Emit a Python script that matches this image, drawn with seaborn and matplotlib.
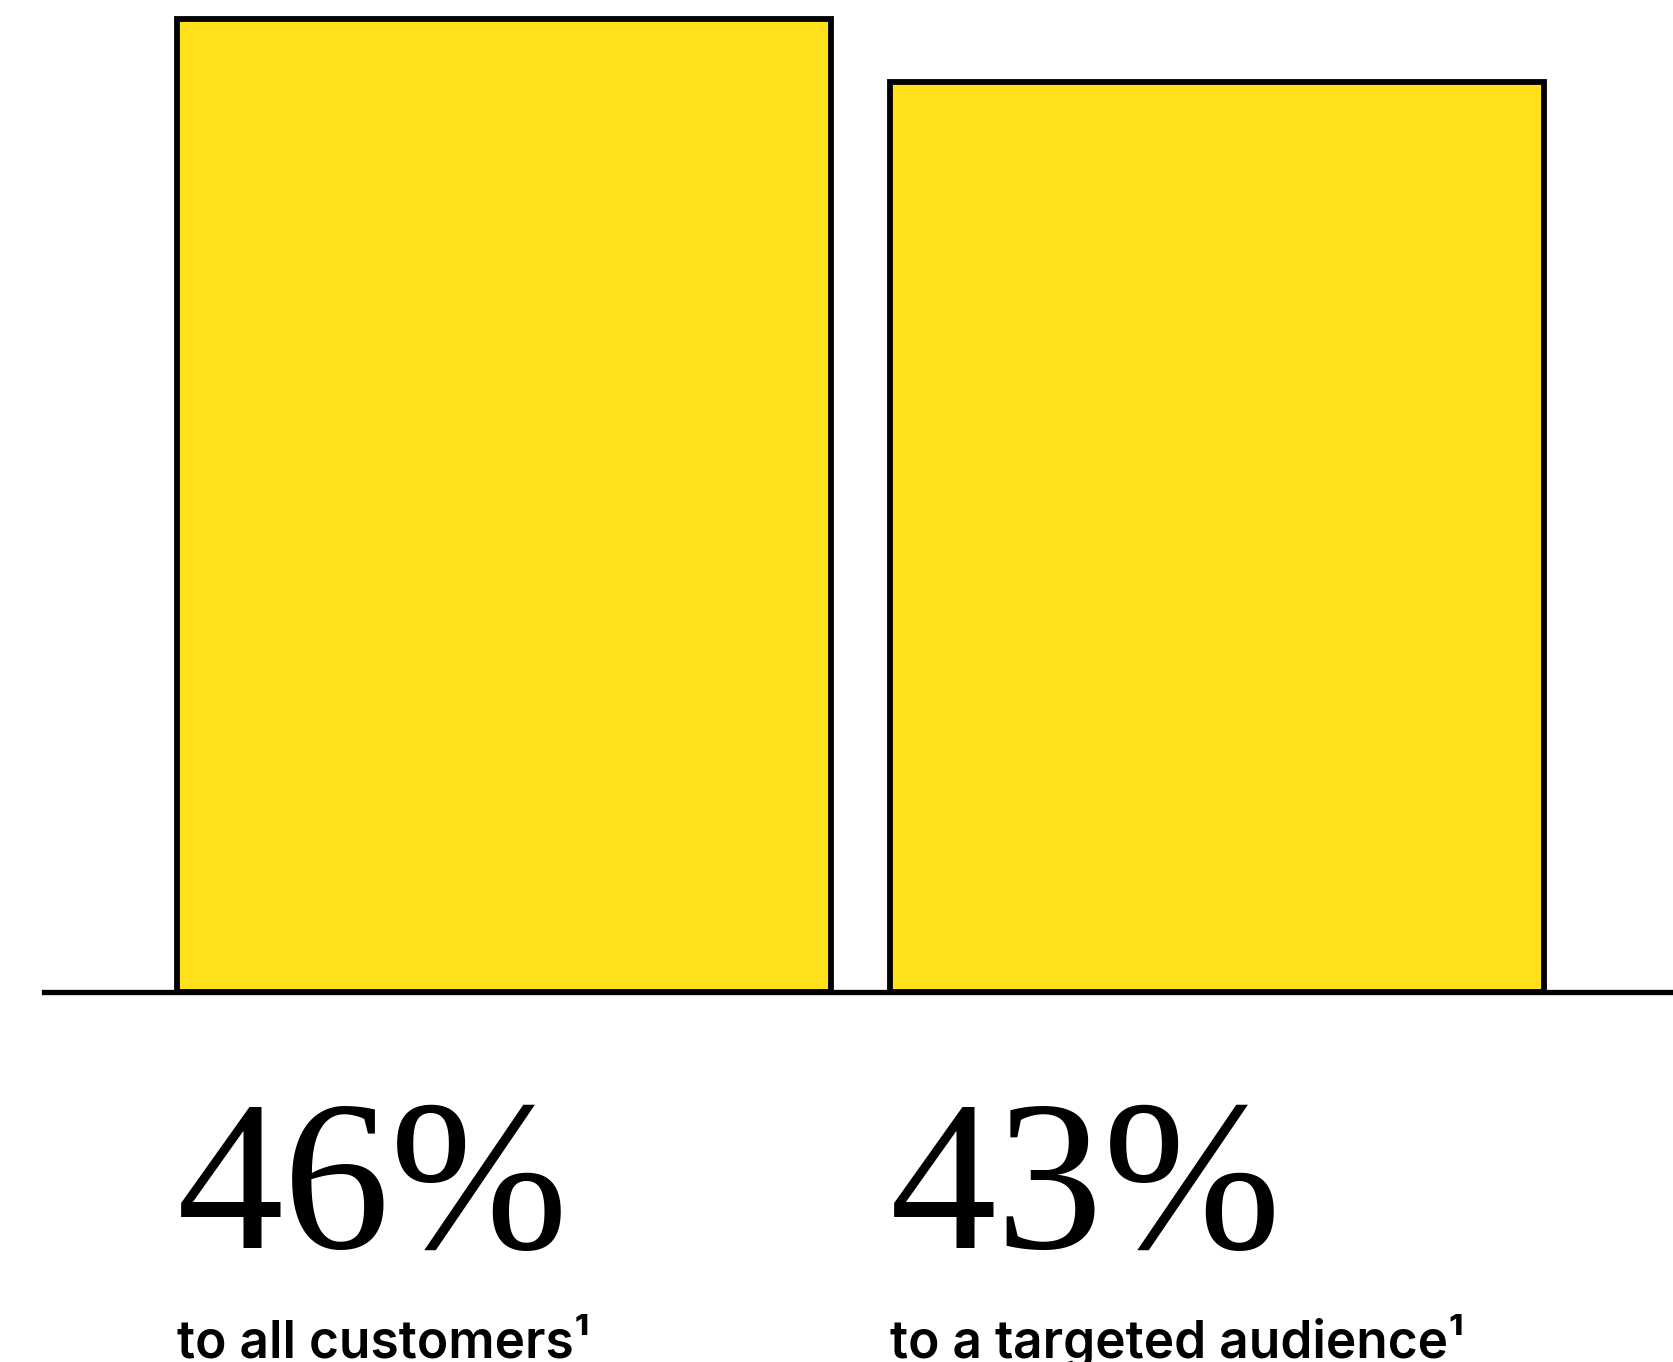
import matplotlib
matplotlib.use("Agg")
import matplotlib.pyplot as plt
import seaborn as sns
import pandas as pd
from matplotlib.transforms import blended_transform_factory

# ---- data ----
categories = ["to all customers¹", "to a targeted audience¹"]
values = [46, 43]
value_labels = ["46%", "43%"]

# ---- figure ----
W, H, DPI = 1674, 1362, 100
sns.set_theme(style="white")
plt.rcParams["font.family"] = ["Inter", "DejaVu Sans"]

fig = plt.figure(figsize=(W / DPI, H / DPI), dpi=DPI)
fig.patch.set_facecolor("white")
base_px = 992
ax = fig.add_axes([44 / W, (H - base_px) / H, 1 - 44 / W, base_px / H])
ax.set_facecolor("white")

df = pd.DataFrame({"cat": categories, "val": values})
bar_w = 0.918
sns.barplot(data=df, x="cat", y="val", color="#FFE01B", saturation=1,
            width=bar_w, edgecolor="black", linewidth=4.2, ax=ax)

ax.set_xlim(-0.645, 1.641)
ax.set_ylim(0, 46 * base_px / 973)
for s in ["top", "left", "right"]:
    ax.spines[s].set_visible(False)
ax.spines["bottom"].set_linewidth(3.8)
ax.spines["bottom"].set_color("black")
ax.spines["bottom"].set_zorder(5)
ax.set_xticks([])
ax.set_yticks([])
ax.set_xlabel("")
ax.set_ylabel("")

trans = blended_transform_factory(ax.transData, fig.transFigure)
for i, (lab, cat) in enumerate(zip(value_labels, categories)):
    x0 = i - bar_w / 2
    ax.text(x0, (H - 1248) / H, lab, transform=trans, ha="left", va="baseline",
            fontsize=154, family=["Liberation Serif", "DejaVu Serif"],
            color="black", clip_on=False)
    ax.text(x0, (H - 1358) / H, cat, transform=trans, ha="left", va="baseline",
            fontsize=37, fontweight="semibold", family=["Inter", "DejaVu Sans"],
            color="black", clip_on=False)

fig.savefig("out.png", dpi=DPI)
